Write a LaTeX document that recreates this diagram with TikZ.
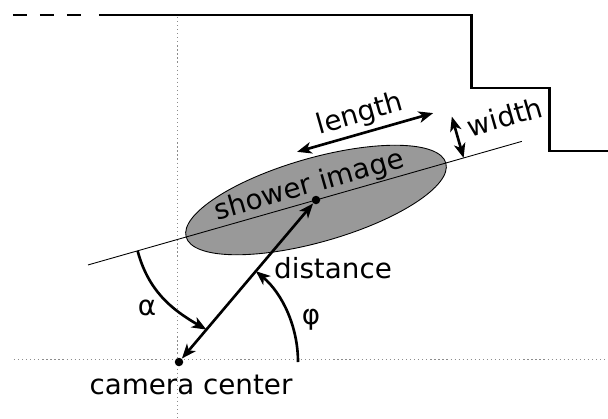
\documentclass[tikz,border=0pt]{standalone}
\usepackage{fontspec}
\setmainfont{DejaVu Sans}
\usetikzlibrary{calc,shapes.geometric,arrows.meta}

\begin{document}
\begin{tikzpicture}[
    >={Stealth[length=2.9mm,width=2.3mm,inset=0.8mm]},
    font=\fontsize{15.8}{19}\selectfont,
    dot/.style={circle,fill=black,inner sep=0,minimum size=1.7mm},
    guide/.style={black!45,line width=0.5pt,dash pattern=on 0.7pt off 1.6pt},
    edge/.style={line width=1.7pt},
    axis/.style={line width=0.5pt},
    len/.style={<->,line width=1.5pt},
    ang/.style={->,line width=1.5pt},
    blob/.style={ellipse,draw=black,line width=0.5pt,fill=black!40,inner sep=0,
                 minimum width=5.4cm,minimum height=1.68cm}
    ]
    \useasboundingbox (-3.58,-1.12) rectangle (8.58,7.24);

    % guide lines through the camera center
    \draw[guide] (-3.3,0.06) -- (8.58,0.06);
    \draw[guide] (-0.04,6.9) -- (-0.04,-1.12);

    % camera edge
    \draw[edge,dash pattern=on 0.28cm off 0.26cm] (-3.32,6.94) -- (-1.94,6.94);
    \draw[edge] (-1.6,6.94) -- (5.84,6.94) -- (5.84,5.48) -- (7.4,5.48)
        -- (7.4,4.22) -- (8.58,4.22);

    % shower image, drawn along its own axis
    \begin{scope}[shift={(2.74,3.24)},rotate=15.9,transform shape]
      \node[blob] (image) at (0,0) {};
      \coordinate (ax0) at (-4.74,0);
      \coordinate (ax1) at (4.28,0);
      \draw[axis] (ax0) -- (ax1);
      \node[anchor=base] (name) at (-0.05,0.15) {shower image};

      % length
      \coordinate (l0) at (-0.1,1.03);
      \coordinate (l1) at (2.73,1.03);
      \draw[len] (l0) -- (l1) node[midway,above,inner sep=2pt] (lenlabel) {length};

      % width
      \coordinate (w0) at (3.07,0.86);
      \coordinate (w1) at (3.07,0);
      \draw[len] (w0) -- (w1);
      \node[anchor=base west] (widlabel) at (3.2,0.36) {width};

      \coordinate (alpha0) at (-3.71,0);
    \end{scope}

    % dots
    \node[dot] (shower) at (2.74,3.24) {};
    \node[dot] (camera) at (0,0) {};

    % distance
    \draw[len] (camera) -- (shower);

    % angles
    \coordinate (alpha1) at ($(camera)!0.2!(shower)$);
    \draw[ang] (alpha0) to[out=-75,in=150] (alpha1);
    \coordinate (phi0) at (2.38,0);
    \draw[ang] (phi0) arc[start angle=0,end angle=49.8,radius=2.38];

    % labels
    \node (alpha) at (-0.64,1.08) {α};
    \node (phi) at (2.64,0.84) {φ};
    \node (dist) at (3.08,1.88) {distance};
    \node (cam) at (0.24,-0.46) {camera center};
  \end{tikzpicture}
\end{document}
